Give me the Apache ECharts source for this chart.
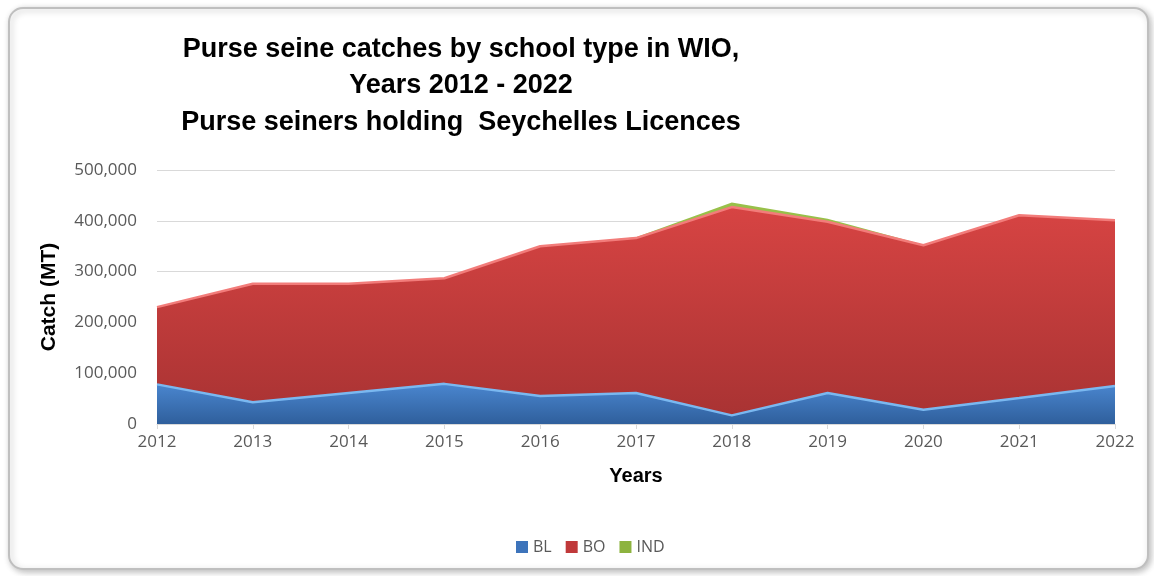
<!DOCTYPE html>
<html><head><meta charset="utf-8">
<script src="https://cdn.jsdelivr.net/npm/echarts@6/dist/echarts.min.js"></script>
<style>html,body{margin:0;padding:0;background:#fff}#c{width:1154px;height:576px}</style>
</head><body><div id="c"></div>
<script>
var years = ['2012','2013','2014','2015','2016','2017','2018','2019','2020','2021','2022'];
var BL  = [78000, 43000, 61000, 79000, 55000, 61000, 17000, 61000, 28000, 51000, 75000];
var BO  = [152000, 233000, 215000, 208000, 295000, 305000, 410000, 337000, 324000, 360000, 326000];
var IND = [0, 0, 0, 0, 0, 1500, 9000, 6000, 800, 0, 0];
var yTicks = [0, 100000, 200000, 300000, 400000, 500000];

var chart = echarts.init(document.getElementById('c'));
function grad(top, bottom){
  return new echarts.graphic.LinearGradient(0,0,0,1,[{offset:0,color:top},{offset:1,color:bottom}]);
}
chart.setOption({
  animation:false,
  backgroundColor:'#fff',
  graphic:[{type:'rect',shape:{x:9,y:8,width:1139,height:561,r:14},
    style:{fill:'#fff',stroke:'#bfbfbf',lineWidth:2,shadowBlur:6,shadowColor:'rgba(0,0,0,0.25)',shadowOffsetX:2,shadowOffsetY:2},z:-10}],
  title:{text:'Purse seine catches by school type in WIO,\nYears 2012 - 2022\nPurse seiners holding  Seychelles Licences',
    left:456, top:26, textAlign:'center',
    textStyle:{fontFamily:'Liberation Sans',fontWeight:'bold',fontSize:27,lineHeight:36.5,color:'#000'}},
  legend:{bottom:16,left:511,itemWidth:12,itemHeight:12,itemGap:14,icon:'rect',
    textStyle:{fontFamily:'Open Sans',fontSize:16,color:'#595959'},
    data:['BL','BO','IND']},
  grid:{left:157,right:39,top:170,bottom:152},
  xAxis:{type:'category',data:years,boundaryGap:false,
    name:'Years',nameLocation:'middle',nameGap:42,
    nameTextStyle:{fontFamily:'Liberation Sans',fontWeight:'bold',fontSize:20,color:'#000'},
    axisLine:{lineStyle:{color:'#d9d9d9',width:1}},
    axisTick:{show:true,lineStyle:{color:'#d9d9d9'},length:5},
    axisLabel:{fontFamily:'Open Sans',fontSize:17,color:'#595959',margin:10}},
  yAxis:{type:'value',min:0,max:500000,interval:100000,
    name:'Catch (MT)',nameLocation:'middle',nameGap:97,
    nameTextStyle:{fontFamily:'Liberation Sans',fontWeight:'bold',fontSize:21,color:'#000'},
    axisLine:{show:false},axisTick:{show:false},
    splitLine:{lineStyle:{color:'#d9d9d9',width:1}},
    axisLabel:{fontFamily:'Open Sans',fontSize:17,color:'#595959',margin:20,
      formatter:function(v){return v.toLocaleString('en-US');}}},
  series:[
    {name:'BL',type:'line',stack:'t',data:BL,symbol:'none',
      lineStyle:{color:'#7ab8f0',width:2.5},
      itemStyle:{color:'#3d74bb'},
      areaStyle:{color:grad('#4a86cf','#2f5f9c'),opacity:1}},
    {name:'BO',type:'line',stack:'t',data:BO,symbol:'none',
      lineStyle:{color:'#f27c7a',width:2.5},
      itemStyle:{color:'#c0393a'},
      areaStyle:{color:grad('#d74443','#a93333'),opacity:1}},
    {name:'IND',type:'line',stack:'t',data:IND,symbol:'none',
      lineStyle:{width:0},
      itemStyle:{color:'#8db33f'},
      areaStyle:{color:'#98c049',opacity:1}}
  ]
});
</script></body></html>
